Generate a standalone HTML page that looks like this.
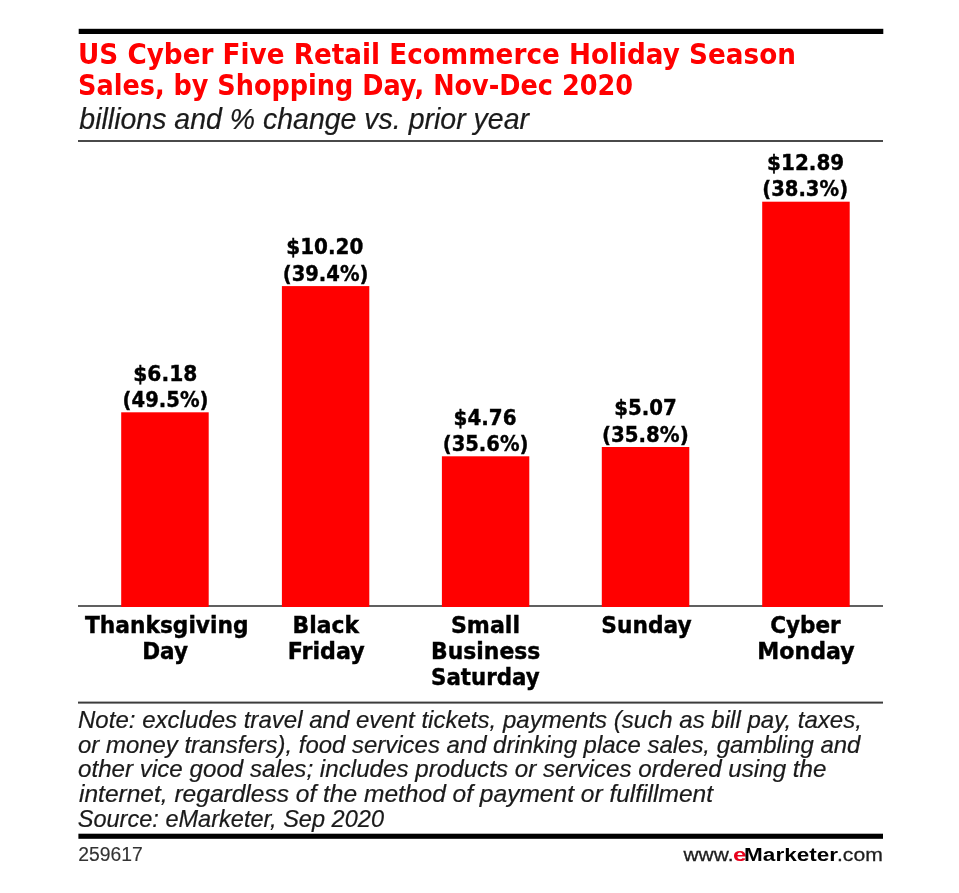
<!DOCTYPE html>
<html><head><meta charset="utf-8"><title>US Cyber Five Retail Ecommerce Holiday Season Sales</title>
<style>
html,body{margin:0;padding:0;background:#fff;}
body{width:959px;height:893px;overflow:hidden;}
svg{display:block;}
text{white-space:pre;}
</style></head><body>
<svg width="959" height="893" viewBox="0 0 959 893">
<rect x="0" y="0" width="959" height="893" fill="#fff"/>
<rect x="78.7" y="28.8" width="804.6" height="5.2" fill="#000"/>
<rect x="78" y="140" width="805" height="2" fill="#4a4a4a"/>
<rect x="78" y="605" width="805" height="2" fill="#606060"/>
<rect x="121.2" y="412.3" width="87.5" height="194.7" fill="#f00"/>
<rect x="281.9" y="286.1" width="87.4" height="320.9" fill="#f00"/>
<rect x="441.9" y="456.3" width="87.4" height="150.7" fill="#f00"/>
<rect x="601.8" y="447" width="87.5" height="160" fill="#f00"/>
<rect x="762.2" y="201.7" width="87.5" height="405.3" fill="#f00"/>
<rect x="78" y="701.6" width="805" height="2" fill="#3c3c3c"/>
<rect x="78.4" y="833.7" width="804.6" height="5.1" fill="#000"/>
<text x="78.00" y="63.50" style="font-family:'DejaVu Sans',sans-serif;font-weight:bold;font-size:28.5px" fill="#f00" text-anchor="start" textLength="718.00" lengthAdjust="spacingAndGlyphs">US Cyber Five Retail Ecommerce Holiday Season</text>
<text x="78.00" y="94.90" style="font-family:'DejaVu Sans',sans-serif;font-weight:bold;font-size:28.5px" fill="#f00" text-anchor="start" textLength="555.00" lengthAdjust="spacingAndGlyphs">Sales, by Shopping Day, Nov-Dec 2020</text>
<text x="79.30" y="128.80" style="font-family:'Liberation Sans',sans-serif;font-style:italic;font-size:29px" fill="#1a1a1a" text-anchor="start" textLength="449.70" lengthAdjust="spacingAndGlyphs" stroke="#1a1a1a" stroke-width="0.2">billions and % change vs. prior year</text>
<text x="165.30" y="380.50" style="font-family:'DejaVu Sans',sans-serif;font-weight:bold;font-size:22px" fill="#000" text-anchor="middle" textLength="64.00" lengthAdjust="spacingAndGlyphs" stroke="#000" stroke-width="0.4">$6.18</text>
<text x="165.55" y="406.80" style="font-family:'DejaVu Sans',sans-serif;font-weight:bold;font-size:22px" fill="#000" text-anchor="middle" textLength="85.90" lengthAdjust="spacingAndGlyphs" stroke="#000" stroke-width="0.4">(49.5%)</text>
<text x="324.85" y="254.30" style="font-family:'DejaVu Sans',sans-serif;font-weight:bold;font-size:22px" fill="#000" text-anchor="middle" textLength="77.10" lengthAdjust="spacingAndGlyphs" stroke="#000" stroke-width="0.4">$10.20</text>
<text x="325.60" y="280.60" style="font-family:'DejaVu Sans',sans-serif;font-weight:bold;font-size:22px" fill="#000" text-anchor="middle" textLength="85.80" lengthAdjust="spacingAndGlyphs" stroke="#000" stroke-width="0.4">(39.4%)</text>
<text x="485.10" y="424.50" style="font-family:'DejaVu Sans',sans-serif;font-weight:bold;font-size:22px" fill="#000" text-anchor="middle" textLength="63.00" lengthAdjust="spacingAndGlyphs" stroke="#000" stroke-width="0.4">$4.76</text>
<text x="485.60" y="450.80" style="font-family:'DejaVu Sans',sans-serif;font-weight:bold;font-size:22px" fill="#000" text-anchor="middle" textLength="85.80" lengthAdjust="spacingAndGlyphs" stroke="#000" stroke-width="0.4">(35.6%)</text>
<text x="645.55" y="415.20" style="font-family:'DejaVu Sans',sans-serif;font-weight:bold;font-size:22px" fill="#000" text-anchor="middle" textLength="62.50" lengthAdjust="spacingAndGlyphs" stroke="#000" stroke-width="0.4">$5.07</text>
<text x="645.30" y="441.50" style="font-family:'DejaVu Sans',sans-serif;font-weight:bold;font-size:22px" fill="#000" text-anchor="middle" textLength="86.80" lengthAdjust="spacingAndGlyphs" stroke="#000" stroke-width="0.4">(35.8%)</text>
<text x="805.65" y="169.90" style="font-family:'DejaVu Sans',sans-serif;font-weight:bold;font-size:22px" fill="#000" text-anchor="middle" textLength="77.10" lengthAdjust="spacingAndGlyphs" stroke="#000" stroke-width="0.4">$12.89</text>
<text x="805.15" y="196.20" style="font-family:'DejaVu Sans',sans-serif;font-weight:bold;font-size:22px" fill="#000" text-anchor="middle" textLength="85.90" lengthAdjust="spacingAndGlyphs" stroke="#000" stroke-width="0.4">(38.3%)</text>
<text x="166.75" y="633.00" style="font-family:'DejaVu Sans',sans-serif;font-weight:bold;font-size:22.5px" fill="#000" text-anchor="middle" textLength="163.40" lengthAdjust="spacingAndGlyphs" stroke="#000" stroke-width="0.4">Thanksgiving</text>
<text x="165.05" y="659.10" style="font-family:'DejaVu Sans',sans-serif;font-weight:bold;font-size:22.5px" fill="#000" text-anchor="middle" textLength="45.80" lengthAdjust="spacingAndGlyphs" stroke="#000" stroke-width="0.4">Day</text>
<text x="325.80" y="633.00" style="font-family:'DejaVu Sans',sans-serif;font-weight:bold;font-size:22.5px" fill="#000" text-anchor="middle" textLength="66.50" lengthAdjust="spacingAndGlyphs" stroke="#000" stroke-width="0.4">Black</text>
<text x="326.27" y="659.10" style="font-family:'DejaVu Sans',sans-serif;font-weight:bold;font-size:22.5px" fill="#000" text-anchor="middle" textLength="76.95" lengthAdjust="spacingAndGlyphs" stroke="#000" stroke-width="0.4">Friday</text>
<text x="485.50" y="633.00" style="font-family:'DejaVu Sans',sans-serif;font-weight:bold;font-size:22.5px" fill="#000" text-anchor="middle" textLength="69.10" lengthAdjust="spacingAndGlyphs" stroke="#000" stroke-width="0.4">Small</text>
<text x="485.70" y="659.10" style="font-family:'DejaVu Sans',sans-serif;font-weight:bold;font-size:22.5px" fill="#000" text-anchor="middle" textLength="109.30" lengthAdjust="spacingAndGlyphs" stroke="#000" stroke-width="0.4">Business</text>
<text x="485.35" y="685.20" style="font-family:'DejaVu Sans',sans-serif;font-weight:bold;font-size:22.5px" fill="#000" text-anchor="middle" textLength="108.60" lengthAdjust="spacingAndGlyphs" stroke="#000" stroke-width="0.4">Saturday</text>
<text x="646.50" y="633.00" style="font-family:'DejaVu Sans',sans-serif;font-weight:bold;font-size:22.5px" fill="#000" text-anchor="middle" textLength="90.30" lengthAdjust="spacingAndGlyphs" stroke="#000" stroke-width="0.4">Sunday</text>
<text x="805.50" y="633.00" style="font-family:'DejaVu Sans',sans-serif;font-weight:bold;font-size:22.5px" fill="#000" text-anchor="middle" textLength="70.50" lengthAdjust="spacingAndGlyphs" stroke="#000" stroke-width="0.4">Cyber</text>
<text x="806.00" y="659.10" style="font-family:'DejaVu Sans',sans-serif;font-weight:bold;font-size:22.5px" fill="#000" text-anchor="middle" textLength="97.30" lengthAdjust="spacingAndGlyphs" stroke="#000" stroke-width="0.4">Monday</text>
<text x="78.00" y="727.60" style="font-family:'Liberation Sans',sans-serif;font-style:italic;font-size:23.6px" fill="#1a1a1a" text-anchor="start" textLength="783.90" lengthAdjust="spacingAndGlyphs" stroke="#1a1a1a" stroke-width="0.2">Note: excludes travel and event tickets, payments (such as bill pay, taxes,</text>
<text x="78.00" y="752.53" style="font-family:'Liberation Sans',sans-serif;font-style:italic;font-size:23.6px" fill="#1a1a1a" text-anchor="start" textLength="782.40" lengthAdjust="spacingAndGlyphs" stroke="#1a1a1a" stroke-width="0.2">or money transfers), food services and drinking place sales, gambling and</text>
<text x="78.00" y="777.46" style="font-family:'Liberation Sans',sans-serif;font-style:italic;font-size:23.6px" fill="#1a1a1a" text-anchor="start" textLength="748.40" lengthAdjust="spacingAndGlyphs" stroke="#1a1a1a" stroke-width="0.2">other vice good sales; includes products or services ordered using the</text>
<text x="79.00" y="802.39" style="font-family:'Liberation Sans',sans-serif;font-style:italic;font-size:23.6px" fill="#1a1a1a" text-anchor="start" textLength="634.00" lengthAdjust="spacingAndGlyphs" stroke="#1a1a1a" stroke-width="0.2">internet, regardless of the method of payment or fulfillment</text>
<text x="77.70" y="827.32" style="font-family:'Liberation Sans',sans-serif;font-style:italic;font-size:23.6px" fill="#1a1a1a" text-anchor="start" textLength="306.30" lengthAdjust="spacingAndGlyphs" stroke="#1a1a1a" stroke-width="0.2">Source: eMarketer, Sep 2020</text>
<text x="78.20" y="860.50" style="font-family:'Liberation Sans',sans-serif;font-size:19.5px" fill="#333" text-anchor="start" textLength="64.50" lengthAdjust="spacingAndGlyphs" stroke="#333" stroke-width="0.15">259617</text>
<text x="683.50" y="861.00" style="font-family:'Liberation Sans',sans-serif;font-size:18.8px" fill="#1e1e1e" text-anchor="start" textLength="50.00" lengthAdjust="spacingAndGlyphs" stroke="#1e1e1e" stroke-width="0.3">www.</text>
<text x="733.00" y="861.00" style="font-family:'Liberation Sans',sans-serif;font-weight:bold;font-size:18.8px" fill="#e8001c" text-anchor="start" textLength="13.60" lengthAdjust="spacingAndGlyphs">e</text>
<text x="744.10" y="861.00" style="font-family:'Liberation Sans',sans-serif;font-weight:bold;font-size:18.8px" fill="#000" text-anchor="start" textLength="94.00" lengthAdjust="spacingAndGlyphs">Marketer</text>
<text x="837.00" y="861.00" style="font-family:'Liberation Sans',sans-serif;font-size:18.8px" fill="#1e1e1e" text-anchor="start" textLength="45.80" lengthAdjust="spacingAndGlyphs" stroke="#1e1e1e" stroke-width="0.3">.com</text>
</svg>
</body></html>
